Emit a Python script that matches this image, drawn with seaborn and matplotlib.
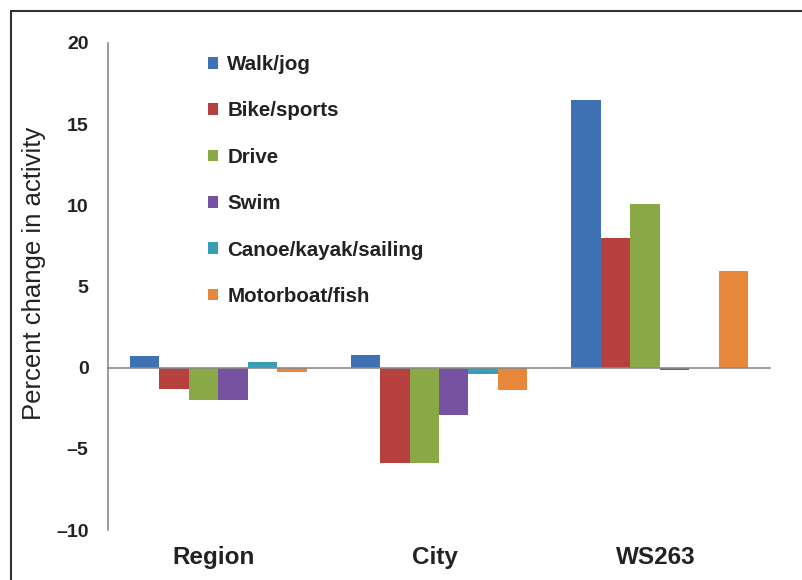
import pandas as pd
import matplotlib
matplotlib.use("Agg")
import matplotlib.pyplot as plt
import seaborn as sns
from matplotlib.lines import Line2D
import matplotlib.transforms as mtransforms

groups = ["Region", "City", "WS263"]
activities = ["Walk/jog", "Bike/sports", "Drive", "Swim", "Canoe/kayak/sailing", "Motorboat/fish"]
walk = [0.7, 0.8, 16.5]
bike = [-1.3, -5.9, 8.0]
drive = [-2.0, -5.9, 10.1]
swim = [-2.0, -2.9, -0.15]
canoe = [0.35, -0.4, 0.0]
motor = [-0.25, -1.4, 5.95]
palette = ["#3f72b5", "#b5403e", "#8aa946", "#7652a0", "#3a9db6", "#e6873a"]
yticks = [-10, -5, 0, 5, 10, 15, 20]

series = [walk, bike, drive, swim, canoe, motor]
rows = []
for act, vals in zip(activities, series):
    for g, v in zip(groups, vals):
        rows.append({"Group": g, "Activity": act, "Change": v})
df = pd.DataFrame(rows)

sns.set_style("white")
plt.rcParams['font.family'] = ['Liberation Sans', 'DejaVu Sans']

fig = plt.figure(figsize=(8.03, 5.80), dpi=100)
ax = fig.add_axes([0.1345, 0.0862, 0.8245, 0.8397])

sns.barplot(data=df, x="Group", y="Change", hue="Activity", order=groups,
            hue_order=activities, palette=palette, width=0.8, gap=0,
            linewidth=0, saturation=1, errorbar=None, ax=ax)

ax.set_xlim(-0.5, 2.5)
ax.set_ylim(-10, 20)
ax.set_yticks(yticks)
ax.set_yticklabels([str(t).replace("-", "\u2013") for t in yticks],
                   fontsize=14, fontweight="bold", color="#222222")
ax.set_ylabel("Percent change in activity", fontsize=18.5, color="#222222")
ax.yaxis.set_label_coords(-0.093, 0.526)
ax.set_xlabel("")

for s in ["top", "right"]:
    ax.spines[s].set_visible(False)
ax.spines["bottom"].set_position(("data", 0))
for s in ["left", "bottom"]:
    ax.spines[s].set_color("#8a8a8a")
    ax.spines[s].set_linewidth(1.2)

ax.set_xticks([0.5, 1.5, 2.5])
ax.set_xticklabels([])
ax.tick_params(axis="x", direction="out", length=5, color="#8a8a8a", width=1)
ax.tick_params(axis="y", direction="out", length=5, color="#8a8a8a", width=1, pad=9)

trans = mtransforms.blended_transform_factory(ax.transData, ax.transAxes)
for i, g in enumerate(groups):
    ax.text(i - 0.02, -0.033, g, transform=trans, ha="center", va="top",
            fontsize=17.5, fontweight="bold", color="#222222")

leg = ax.legend(loc="upper left", bbox_to_anchor=(0.123, 1.013), frameon=False,
                fontsize=14.8, handlelength=0.5, handleheight=0.5,
                handletextpad=0.45, labelspacing=1.33)
for t in leg.get_texts():
    t.set_fontweight("bold")
    t.set_color("#222222")

# frame lines on top and left of the figure
fig.add_artist(Line2D([0.0137, 1.0], [0.981, 0.981], color="#333333", lw=1.5))
fig.add_artist(Line2D([0.0137, 0.0137], [0.0, 0.981], color="#333333", lw=1.5))

fig.savefig("out.png", dpi=100)
